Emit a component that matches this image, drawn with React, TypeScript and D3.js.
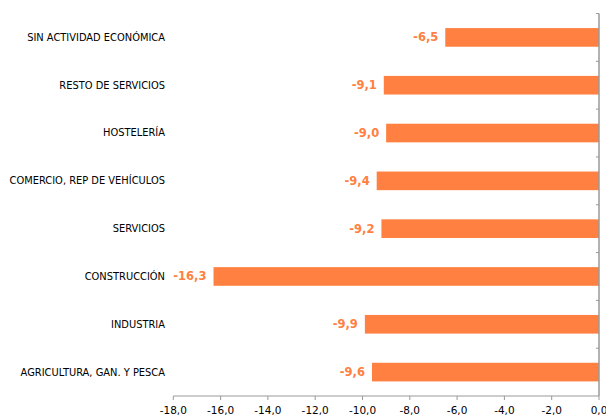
import React from "react";
import * as d3 from "d3";

const categories = [
  "SIN ACTIVIDAD ECONÓMICA",
  "RESTO DE SERVICIOS",
  "HOSTELERÍA",
  "COMERCIO, REP DE VEHÍCULOS",
  "SERVICIOS",
  "CONSTRUCCIÓN",
  "INDUSTRIA",
  "AGRICULTURA, GAN. Y PESCA",
];
const values = [-6.5, -9.1, -9.0, -9.4, -9.2, -16.3, -9.9, -9.6];
const ticks = [-18, -16, -14, -12, -10, -8, -6, -4, -2, 0];

const W = 606;
const H = 416;
const left = 173.3;
const right = 599;
const top = 13.5;
const bottom = 396;
const orange = "#FF8040";
const fmt = (v: number) => v.toFixed(1).replace(".", ",");

export default function App() {
  const x = d3.scaleLinear().domain([-18, 0]).range([left, right]);
  const y = d3.scaleBand<string>().domain(categories).range([top, bottom]).paddingInner(0.61).paddingOuter(0.305);
  const yb = d3.scaleBand<string>().domain(categories).range([top, bottom]);
  const font = "'DejaVu Sans', Verdana, sans-serif";
  return (
    <svg width={W} height={H} style={{ position: "absolute", left: 0, top: 0 }}>
      {categories.map((c, i) => {
        const v = values[i];
        const y0 = y(c)!;
        return (
          <g key={c}>
            <rect x={x(v)} y={y0} width={x(0) - x(v)} height={y.bandwidth()} fill={orange} />
            <text x={x(v) - 7} y={y0 + y.bandwidth() / 2} dy="0.35em" textAnchor="end" fill={orange} fontFamily={font} fontWeight="bold" fontSize={11.5}>
              {fmt(v)}
            </text>
            <text x={165} y={y0 + y.bandwidth() / 2} dy="0.35em" textAnchor="end" fill="#000" fontFamily={font} fontSize={9.9}>
              {c}
            </text>
          </g>
        );
      })}
      {/* y axis */}
      <line x1={right} x2={right} y1={top} y2={bottom} stroke="#999" strokeWidth={1.5} />
      {categories.map((c, i) => (
        <line key={"yt" + i} x1={right - 3} x2={right} y1={yb(c)!} y2={yb(c)!} stroke="#999" />
      ))}
      {/* x axis */}
      <line x1={left} x2={right} y1={bottom} y2={bottom} stroke="#999" />
      {ticks.map((t) => (
        <g key={t}>
          <line x1={x(t)} x2={x(t)} y1={bottom} y2={bottom + 4} stroke="#999" />
          <text x={x(t)} y={410} dy="0.35em" textAnchor="middle" fontFamily={font} fontSize={10.5} fill="#000">
            {fmt(t)}
          </text>
        </g>
      ))}
    </svg>
  );
}
